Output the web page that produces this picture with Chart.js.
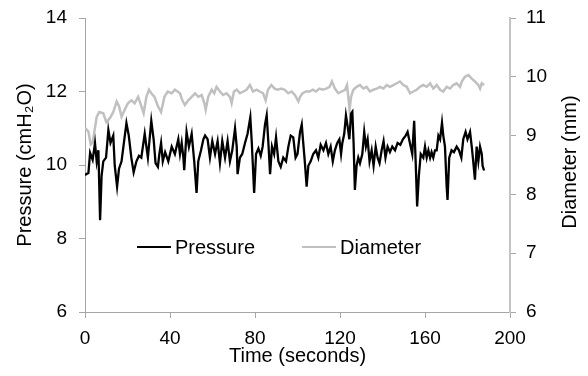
<!DOCTYPE html>
<html>
<head>
<meta charset="utf-8">
<script src="https://cdn.jsdelivr.net/npm/chart.js@4/dist/chart.umd.min.js"></script>
<style>
  html, body { margin: 0; padding: 0; background: #fff; }
  #wrap { width: 588px; height: 376px; }
</style>
</head>
<body>
<div id="wrap"><canvas id="chart" width="588" height="376"></canvas></div>
<script>
// values
const pressureTime = [0, 1.6, 2.4, 3.6, 4.7, 5.5, 6.3, 7.1, 7.8, 8.6, 9.9, 11, 12, 13.3, 14, 15.1, 16, 17.2, 18.3, 19.5,
  20.6, 21.8, 22.9, 24.2, 25.4, 26.5, 28.1, 28.9, 29.6, 31.2, 32.3, 33.2, 34.3, 35, 35.8, 36.6, 37.7, 39.2, 40.8, 42.3,
  43.9, 44.7, 45.5, 46.3, 46.7, 47.8, 48.9, 50.2, 51.4, 52.5, 53.3, 54.6, 55.7, 56.5, 57.7, 58.8, 59.9, 61.2, 62.4, 63.5,
  64.6, 65.9, 67.1, 68.2, 69.3, 70.6, 71.4, 71.8, 72.9, 74, 75.3, 76.5, 77.8, 78.5, 79.6, 80.5, 81.6, 82.7, 83.6, 84.7,
  85.5, 86.3, 87.1, 88, 89, 89.9, 91, 92.1, 93.3, 94.6, 95.7, 96.8, 98, 99.1, 100, 101.2, 102, 102.7, 103.5, 104.3,
  105.1, 106.2, 107.4, 108.7, 109.8, 110.9, 112.2, 113.4, 114.5, 115.6, 116.6, 117.6, 118.7, 119.7, 120.5, 121.1, 122, 122.8, 123.6, 124.4,
  125.2, 125.8, 126.4, 127, 127.8, 128.6, 129.4, 130.5, 131.4, 132.2, 133, 133.9, 134.9, 135.8, 136.8, 137.7, 138.6, 139.6, 140.5, 141.4,
  142.4, 143.5, 144.6, 145.9, 147.1, 148.4, 149.6, 150.9, 151.8, 152.9, 154, 154.9, 155.6, 156.3, 157.1, 158, 159.2, 160, 160.8, 161.6,
  162.4, 163.1, 163.9, 164.7, 165.5, 166.3, 167.1, 168, 168.6, 169.4, 170.2, 170.6, 171.4, 172.5, 173.6, 174.9, 176, 177.1, 178, 179.1,
  180, 181.2, 182, 182.7, 183.5, 184.3, 185.1, 185.9, 186.7, 187.1, 187.8];
const pressure = [9.73, 9.78, 10.33, 10.14, 10.6, 10.1, 10.4, 8.5, 9.7, 10.1, 10.2, 10.95, 10.6, 10.8, 9.98, 9.41, 9.9, 10.1, 10.6, 11.14,
  10.8, 10.2, 9.8, 10.1, 10.25, 10.2, 10.85, 10.5, 10.2, 11.2, 10.7, 10.05, 9.95, 10.3, 10.6, 10.1, 10.35, 10.1, 10.5, 10.3,
  10.7, 10.3, 10.6, 10.2, 9.86, 10.9, 10.5, 10.85, 10.1, 9.24, 10.1, 10.4, 10.7, 10.8, 10.7, 10.2, 10.65, 10.3, 10.65, 10.05,
  10.65, 10.2, 10.65, 10.1, 10.4, 11.0, 10.5, 9.75, 10.2, 10.3, 10.6, 10.85, 11.3, 10.6, 9.24, 10.3, 10.45, 10.25, 10.5, 11.1,
  11.35, 10.6, 9.75, 10.5, 10.3, 10.75, 10.1, 9.95, 10.2, 10.1, 10.5, 10.8, 10.75, 10.2, 10.3, 10.9, 11.1, 10.6, 10.05, 9.41,
  9.98, 10.1, 10.3, 10.4, 10.2, 10.55, 10.4, 10.6, 10.3, 10.5, 10.1, 10.4, 10.6, 10.7, 10.3, 10.6, 10.85, 11.35, 11.05, 10.7,
  11.4, 11.45, 10.6, 9.32, 9.98, 10.2, 10.05, 10.3, 10.9, 10.5, 10.7, 10.1, 10.4, 9.98, 10.5, 10.2, 10.05, 10.4, 10.65, 10.2,
  10.5, 10.35, 10.5, 10.4, 10.6, 10.55, 10.7, 10.8, 10.9, 10.6, 10.3, 11.2, 10.1, 8.87, 9.7, 10.3, 10.2, 10.5, 10.2, 10.4,
  10.2, 10.35, 10.2, 10.4, 10.4, 10.8, 10.7, 11.15, 10.8, 10.5, 9.41, 9.05, 10.2, 10.4, 10.35, 10.5, 10.4, 10.2, 10.7, 10.9,
  10.7, 10.9, 10.5, 10.1, 9.6, 10.5, 10.1, 10.5, 10.3, 9.98, 9.85];

const diameterTime = [0, 1.6, 2.7, 3.6, 5.5, 6.7, 8.6, 10, 11.8, 13.3, 14.9, 16, 17.2, 18.7, 20.2, 21.8, 23.4, 25, 26.5, 27.6,
  28.9, 30.1, 31.2, 32.7, 34.3, 35.8, 37.4, 38.9, 40.8, 42.3, 44.7, 45.8, 47, 48.6, 50.2, 51.8, 53.3, 54.9, 56.2, 56.8,
  58, 59.6, 60.8, 61.9, 63.5, 65, 66.6, 68.2, 69, 70.1, 71.4, 72.9, 74.5, 76, 77.6, 79.1, 80.7, 82.2, 83.8, 85,
  86.1, 87.7, 89.2, 90.8, 92.4, 94, 95.6, 97.2, 98.8, 100.4, 101.2, 102.4, 104, 105.6, 107.2, 108.7, 110.3, 111.9, 113.5, 115.1,
  116.2, 117.6, 119.2, 120.8, 122.4, 123.3, 123.9, 124.5, 125.2, 126.3, 127.8, 129.4, 131, 132.5, 134.1, 135.7, 137.3, 138.8, 140.4, 142,
  143.5, 145.1, 146.7, 148.2, 149.8, 151.4, 153, 154.5, 156.1, 157.6, 159.2, 160.8, 162.4, 163.9, 165.5, 167.1, 168.6, 170.2, 171.8, 173.3,
  174.9, 176.5, 177.3, 178.8, 180.4, 182, 183.5, 185.1, 185.9, 186.7, 187.8];
const diameter = [9.13, 9.07, 8.85, 8.88, 9.32, 9.4, 9.38, 9.23, 9.3, 9.4, 9.58, 9.5, 9.32, 9.44, 9.55, 9.6, 9.55, 9.66, 9.5, 9.38,
  9.66, 9.78, 9.72, 9.66, 9.5, 9.4, 9.66, 9.75, 9.72, 9.78, 9.72, 9.6, 9.52, 9.6, 9.66, 9.72, 9.66, 9.69, 9.55, 9.44,
  9.66, 9.78, 9.72, 9.83, 9.75, 9.69, 9.72, 9.66, 9.55, 9.75, 9.78, 9.72, 9.75, 9.78, 9.86, 9.75, 9.78, 9.75, 9.72, 9.6,
  9.78, 9.86, 9.8, 9.78, 9.8, 9.78, 9.72, 9.75, 9.69, 9.58, 9.66, 9.72, 9.75, 9.75, 9.78, 9.75, 9.8, 9.78, 9.8, 9.83,
  9.92, 9.8, 9.72, 9.75, 9.78, 9.86, 9.66, 9.44, 9.66, 9.78, 9.83, 9.86, 9.8, 9.83, 9.75, 9.78, 9.8, 9.83, 9.8, 9.86,
  9.83, 9.86, 9.89, 9.92, 9.86, 9.83, 9.72, 9.75, 9.78, 9.83, 9.86, 9.83, 9.89, 9.8, 9.86, 9.78, 9.75, 9.83, 9.8, 9.86,
  9.89, 9.83, 9.92, 10.0, 10.03, 9.97, 9.92, 9.86, 9.8, 9.89, 9.86];

const timeTicks = [0, 40, 80, 120, 160, 200];
const pressureTicks = [6, 8, 10, 12, 14];
const diameterTicks = [6, 7, 8, 9, 10, 11];
const diameterTitle = 'Diameter (mm)';

const axisColor = '#a6a6a6';
const fontFamily = '"Liberation Sans", Arial, sans-serif';

function toPoints(xs, ys) {
    return xs.map((x, i) => ({ x: x, y: ys[i] }));
}

// legend drawn inside the plot area, like the original
const innerLegend = {
    id: 'innerLegend',
    afterDraw(chart) {
        const ctx = chart.ctx;
        const area = chart.chartArea;
        const y = area.top + 229;
        const starts = [area.left + 52, area.left + 217];
        ctx.save();
        ctx.font = '20px ' + fontFamily;
        ctx.textBaseline = 'middle';
        chart.data.datasets.forEach((ds, i) => {
            const x = starts[i];
            ctx.strokeStyle = ds.borderColor;
            ctx.lineWidth = 2;
            ctx.beginPath();
            ctx.moveTo(x, y);
            ctx.lineTo(x + 34, y);
            ctx.stroke();
            ctx.fillStyle = '#000';
            ctx.fillText(ds.label, x + 38, y + 1);
        });
        ctx.restore();
    }
};

// right axis title reads bottom-to-top in the original
const rightTitle = {
    id: 'rightTitle',
    afterDraw(chart) {
        const ctx = chart.ctx;
        const s = chart.scales.y2;
        ctx.save();
        ctx.translate(s.right - 18, (s.top + s.bottom) / 2 - 3);
        ctx.rotate(-Math.PI / 2);
        ctx.font = '20px ' + fontFamily;
        ctx.fillStyle = '#000';
        ctx.textAlign = 'center';
        ctx.textBaseline = 'middle';
        ctx.fillText(diameterTitle, 0, 0);
        ctx.restore();
    }
};

function noPadY(s) {
    s.paddingTop = 0;
    s.paddingBottom = 0;
}

const ctx = document.getElementById('chart').getContext('2d');

const chart = new Chart(ctx, {
    type: 'line',
    data: {
        datasets: [{
            label: 'Pressure',
            data: toPoints(pressureTime, pressure),
            yAxisID: 'y',
            borderColor: '#000000',
            borderWidth: 2.3,
            pointRadius: 0,
            tension: 0
        }, {
            label: 'Diameter',
            data: toPoints(diameterTime, diameter),
            yAxisID: 'y2',
            borderColor: '#c0c0c0',
            borderWidth: 2.5,
            pointRadius: 0,
            tension: 0
        }]
    },
    options: {
        responsive: false,
        animation: false,
        layout: { padding: { top: 18, left: 0, right: 0, bottom: 0 } },
        plugins: {
            legend: { display: false },
            tooltip: { enabled: false }
        },
        scales: {
            x: {
                type: 'linear',
                min: 0,
                max: 200,
                afterBuildTicks: s => { s.ticks = timeTicks.map(v => ({ value: v })); },
                afterFit: s => { s.height = 64; s.paddingLeft = 0; s.paddingRight = 0; },
                grid: { drawOnChartArea: false, color: axisColor, tickLength: 6 },
                border: { color: axisColor, width: 1 },
                ticks: { color: '#000', font: { family: fontFamily, size: 19 }, padding: 9, maxRotation: 0 },
                title: { display: true, text: 'Time (seconds)', color: '#000', font: { family: fontFamily, size: 20 }, padding: { top: 0, bottom: 8 } }
            },
            y: {
                position: 'left',
                min: 6,
                max: 14,
                afterBuildTicks: s => { s.ticks = pressureTicks.map(v => ({ value: v })); },
                afterFit: s => { s.width = 85; noPadY(s); },
                grid: { drawOnChartArea: false, color: axisColor, tickLength: 6 },
                border: { color: axisColor, width: 1 },
                ticks: { color: '#000', font: { family: fontFamily, size: 19 }, padding: 12 },
                title: { display: true, text: 'Pressure (cmH₂O)', color: '#000', font: { family: fontFamily, size: 20 }, padding: { top: 13, bottom: 0 } }
            },
            y2: {
                position: 'right',
                min: 6,
                max: 11,
                afterBuildTicks: s => { s.ticks = diameterTicks.map(v => ({ value: v })); },
                afterFit: s => { s.width = 78; noPadY(s); },
                grid: { drawOnChartArea: false, color: axisColor, tickLength: 6 },
                border: { color: '#c4c4c4', width: 2 },
                ticks: { color: '#000', font: { family: fontFamily, size: 19 }, padding: 10 },
                title: { display: false }
            }
        }
    },
    plugins: [innerLegend, rightTitle]
});
</script>
</body>
</html>
